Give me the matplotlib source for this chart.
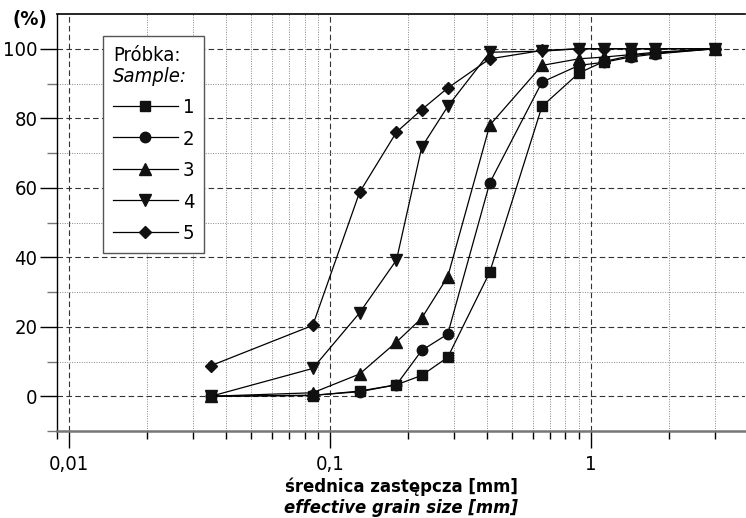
import os
import matplotlib
matplotlib.use("Agg")
import matplotlib.pyplot as plt
from matplotlib import font_manager as fm
from matplotlib.offsetbox import TextArea, VPacker
from matplotlib.ticker import FixedLocator, LogLocator, NullFormatter

# grain diameters [mm]
d = [0.035, 0.086, 0.13, 0.18, 0.225, 0.283, 0.41, 0.65, 0.90, 1.12, 1.42, 1.77, 3.0]

# passing percentage per sample
s1 = [0.0, 0.2, 1.5, 3.3, 6.0, 11.2, 35.7, 83.4, 93.0, 96.3, 98.0, 98.7, 100.0]
s2 = [0.0, 0.3, 1.3, 3.3, 13.2, 17.9, 61.4, 90.4, 95.2, 96.1, 97.6, 98.5, 100.0]
s3 = [0.0, 1.0, 6.4, 15.6, 22.5, 34.4, 78.0, 95.2, 97.1, 97.6, 98.3, 99.0, 100.0]
s4 = [0.0, 8.0, 24.0, 39.2, 71.7, 83.4, 99.0, 99.3, 100.0, 100.0, 100.0, 100.0, 100.0]
s5 = [8.8, 20.4, 58.7, 76.0, 82.5, 88.7, 97.1, 99.5, 100.0, 100.0, 100.0, 100.0, 100.0]

series = [s1, s2, s3, s4, s5]
labels = ['1', '2', '3', '4', '5']
markers = ['s', 'o', '^', 'v', 'D']
msizes = [7, 7.5, 8, 8, 6.5]
xtick_vals = [0.01, 0.1, 1]
xtick_labels = ['0,01', '0,1', '1']


# look for a narrow / condensed sans (the original uses a condensed grotesk)
def find_font(name):
    for f in fm.fontManager.ttflist:
        if os.path.basename(f.fname) == name:
            return f.fname
    return None


sets = [
    ['LiberationSansNarrow-Regular.ttf', 'LiberationSansNarrow-Bold.ttf',
     'LiberationSansNarrow-Italic.ttf', 'LiberationSansNarrow-BoldItalic.ttf'],
    ['DejaVuSansCondensed.ttf', 'DejaVuSansCondensed-Bold.ttf',
     'DejaVuSansCondensed-Oblique.ttf', 'DejaVuSansCondensed-BoldOblique.ttf'],
]
fonts = None
for s in sets:
    paths = [find_font(n) for n in s]
    if all(paths):
        fonts = paths
        break


def fp(kind, size):
    if fonts is None:
        styles = {'reg': ('normal', 'normal'), 'bold': ('bold', 'normal'),
                  'it': ('normal', 'italic'), 'boldit': ('bold', 'italic')}
        w, st = styles[kind]
        return fm.FontProperties(family='Liberation Sans', weight=w, style=st, size=size)
    idx = {'reg': 0, 'bold': 1, 'it': 2, 'boldit': 3}[kind]
    return fm.FontProperties(fname=fonts[idx], size=size)


fs = 14.5

fig = plt.figure(figsize=(7.46, 5.18), dpi=100)
ax = fig.add_axes([57/746, 1-431/518, (745-57)/746, (431-14)/518])

for y, lab, m, ms in zip(series, labels, markers, msizes):
    ax.plot(d, y, color='black', lw=0.9, marker=m, ms=ms, mfc='#111111', mec='#111111',
            label=lab, zorder=3)

ax.set_xscale('log')
ax.set_xlim(0.009, 3.9)
ax.set_ylim(-10, 110)

ax.xaxis.set_major_locator(FixedLocator(xtick_vals))
ax.set_xticklabels(xtick_labels)
ax.xaxis.set_minor_locator(LogLocator(base=10, subs=range(2, 10)))
ax.xaxis.set_minor_formatter(NullFormatter())
ax.yaxis.set_major_locator(FixedLocator([0, 20, 40, 60, 80, 100]))
ax.yaxis.set_minor_locator(FixedLocator([-10, 10, 30, 50, 70, 90]))
for lbl in ax.get_xticklabels() + ax.get_yticklabels():
    lbl.set_fontproperties(fp('reg', fs))

ax.grid(which='major', color='#333333', ls=(0, (5, 3)), lw=0.8)
ax.grid(which='minor', color='#888888', ls=(0, (1, 1.5)), lw=0.7)

ax.tick_params(axis='x', which='major', length=12, width=1, direction='out', pad=5)
ax.tick_params(axis='x', which='minor', length=6, width=1, direction='out')
ax.tick_params(axis='y', which='major', length=12, width=1, direction='out', pad=2)
ax.tick_params(axis='y', which='minor', length=7, width=1, direction='out', color='#777777')

ax.spines['right'].set_visible(False)
ax.spines['top'].set_linewidth(1.2)
ax.spines['left'].set_linewidth(1.0)
ax.spines['bottom'].set_color('#777777')
ax.spines['bottom'].set_linewidth(1.8)

leg = ax.legend(loc='upper left', bbox_to_anchor=(0.067, 0.947),
                prop=fp('reg', fs), handlelength=3.2, labelspacing=0.62, borderaxespad=0,
                fancybox=False, framealpha=1, edgecolor='#555555', borderpad=0.5,
                handletextpad=0.25, alignment='left')
leg.get_frame().set_linewidth(1.0)

# two-line legend title: regular Polish line, italic English line
title_pack = VPacker(children=[TextArea('Próbka:', textprops=dict(fontproperties=fp('reg', fs))),
                               TextArea('Sample:', textprops=dict(fontproperties=fp('it', fs)))],
                     align='left', pad=0, sep=1)
title_pack.set_figure(fig)
leg._legend_box._children[0] = title_pack

fig.text(30/746, 1-20/518, '(%)', fontproperties=fp('bold', fs), ha='center', va='center')
fig.text(401/746, 1-487/518, 'średnica zastępcza [mm]', fontproperties=fp('bold', 13.2),
         ha='center', va='center')
fig.text(401/746, 1-508/518, 'effective grain size [mm]', fontproperties=fp('boldit', 13.2),
         ha='center', va='center')

fig.savefig('out.png', dpi=100)
